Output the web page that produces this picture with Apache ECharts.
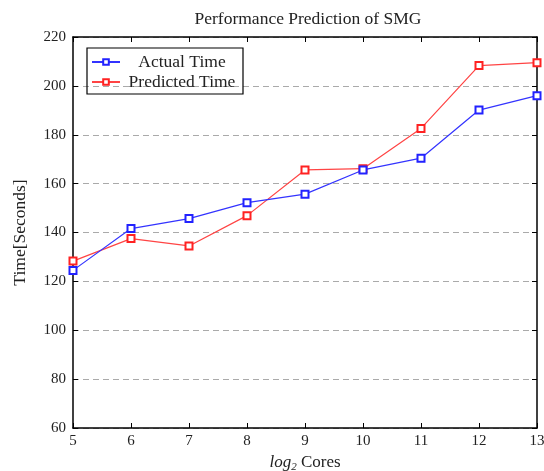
<!DOCTYPE html>
<html><head><meta charset="utf-8">
<script src="https://cdn.jsdelivr.net/npm/echarts@6/dist/echarts.min.js"></script>
<style>html,body{margin:0;padding:0;background:#fff}#c{width:544px;height:471px}</style>
</head><body><div id="c"></div>
<script>
const cores = [5, 6, 7, 8, 9, 10, 11, 12, 13];
const actualTime = [124.5, 141.6, 145.7, 152.2, 155.7, 165.6, 170.4, 190.1, 196.0];
const predictedTime = [128.3, 137.5, 134.5, 146.9, 165.6, 166.1, 182.6, 208.3, 209.5];
const yTicks = [60, 80, 100, 120, 140, 160, 180, 200, 220];

const FONT = '"Liberation Serif", "DejaVu Serif", serif';
const TXT = '#222';
const chart = echarts.init(document.getElementById('c'), null, {renderer: 'canvas'});
const pairs = a => cores.map((c, i) => [c, a[i]]);
const axisCommon = {
  axisLine: {show: true, onZero: false, lineStyle: {color: '#000', width: 1.5}},
  axisTick: {show: true, inside: true, length: 5, lineStyle: {color: '#000', width: 1}},
};
chart.setOption({
  animation: false,
  backgroundColor: '#fff',
  title: {
    text: 'Performance Prediction of SMG', left: 303, top: 5, textAlign: 'center',
    textStyle: {fontFamily: FONT, fontSize: 17.5, fontWeight: 'normal', color: TXT}
  },
  grid: {left: 73, right: 7, top: 37, bottom: 43, containLabel: false, outerBoundsMode: 'none'},
  legend: {
    orient: 'vertical', left: 87, top: 48, padding: [5, 4, 3, 4],
    borderColor: '#000', borderWidth: 1.2, itemWidth: 28, itemHeight: 7, itemGap: 2,
    formatter: name => '{a|' + name + '}',
    textStyle: {fontFamily: FONT, fontSize: 17.5, color: TXT,
      rich: {a: {fontFamily: FONT, fontSize: 17.5, color: TXT, width: 114, align: 'center', lineHeight: 18}}},
    data: ['Actual Time', 'Predicted Time']
  },
  xAxis: [
    Object.assign({type: 'value', min: 5, max: 13, interval: 1, position: 'bottom',
      name: '{i|log}{s|2}{n| Cores}', nameLocation: 'middle', nameGap: 25,
      nameTextStyle: {fontFamily: FONT, fontSize: 17, color: TXT,
        rich: {i: {fontFamily: FONT, fontStyle: 'italic', fontSize: 17, color: TXT},
               n: {fontFamily: FONT, fontSize: 17, color: TXT},
               s: {fontFamily: FONT, fontStyle: 'italic', fontSize: 11, color: TXT, verticalAlign: 'bottom', padding: [9, 0, 0, 0]}}},
      axisLabel: {fontFamily: FONT, fontSize: 15, color: TXT, margin: 6},
      splitLine: {show: false}}, axisCommon),
    Object.assign({type: 'value', min: 5, max: 13, interval: 1, position: 'top',
      axisLabel: {show: false}, splitLine: {show: false}}, axisCommon)
  ],
  yAxis: [
    Object.assign({type: 'value', min: 60, max: 220, interval: 20, position: 'left',
      name: 'Time[Seconds]', nameLocation: 'middle', nameGap: 44, nameRotate: 90,
      nameTextStyle: {fontFamily: FONT, fontSize: 17.5, color: TXT},
      axisLabel: {fontFamily: FONT, fontSize: 15, color: TXT, margin: 7,
        formatter: v => yTicks.includes(v) ? String(v) : ''},
      splitLine: {show: true, lineStyle: {color: '#aaa', type: [6, 4], width: 1}}}, axisCommon),
    Object.assign({type: 'value', min: 60, max: 220, interval: 20, position: 'right',
      axisLabel: {show: false}, splitLine: {show: false}}, axisCommon)
  ],
  series: [
    {name: 'Actual Time', type: 'line', data: pairs(actualTime), symbol: 'emptyRect', symbolSize: 7,
      lineStyle: {color: '#3333ff', width: 1.2}, itemStyle: {color: '#2222ff', borderWidth: 1.3}, z: 3},
    {name: 'Predicted Time', type: 'line', data: pairs(predictedTime), symbol: 'emptyRect', symbolSize: 7,
      lineStyle: {color: '#ff4444', width: 1.2}, itemStyle: {color: '#ff2222', borderWidth: 1.3}, z: 2}
  ]
});
</script></body></html>
